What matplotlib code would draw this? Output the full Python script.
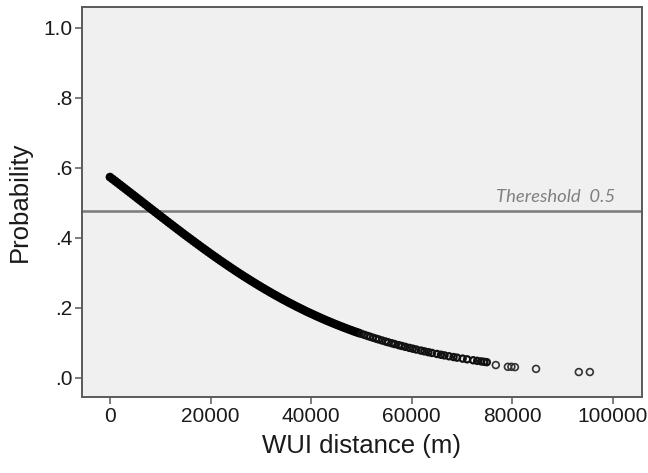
import matplotlib
matplotlib.use('Agg')
import matplotlib.pyplot as plt

plt.rcParams['font.family'] = ['Liberation Sans', 'DejaVu Sans']

# WUI distance (thousands of m) and predicted probability
dist_k = [0, 0.5, 1, 1.5, 2, 2.5, 3, 3.5, 4, 4.5, 5, 5.5, 6, 6.5, 7, 7.5, 8, 8.5, 9, 9.5,
          10, 10.5, 11, 11.5, 12, 12.5, 13, 13.5, 14, 14.5, 15, 15.5, 16, 16.5, 17, 17.5,
          18, 18.5, 19, 19.5, 20, 20.5, 21, 21.5, 22, 22.5, 23, 23.5, 24, 24.5, 25, 25.5,
          26, 26.5, 27, 27.5, 28, 28.5, 29, 29.5, 30, 30.5, 31, 31.5, 32, 32.5, 33, 33.5,
          34, 34.5, 35, 35.5, 36, 36.5, 37, 37.5, 38, 38.5, 39, 39.5, 40, 40.5, 41, 41.5,
          42, 42.5, 43, 43.5, 44, 44.5, 45, 45.5, 46, 46.5, 47, 47.5, 48, 48.5, 49, 49.5, 50,
          50.6, 51.2, 51.7, 52.3, 52.9, 53.4, 54.1, 54.8, 55.3, 56.0, 56.6, 57.4, 58.0, 58.7,
          59.5, 60.2, 60.9, 61.8, 62.5, 63.3, 64.0, 65.0, 65.8, 66.5, 67.4, 68.3, 69.0, 70.1,
          71.0, 72.2, 73.0, 73.8, 74.4, 74.9, 76.7, 79.1, 79.8, 80.5, 84.7, 93.2, 95.4]
prob = [0.5740, 0.5685, 0.5630, 0.5575, 0.5520, 0.5464, 0.5409, 0.5353, 0.5298, 0.5242,
        0.5186, 0.5130, 0.5075, 0.5019, 0.4963, 0.4907, 0.4851, 0.4795, 0.4740, 0.4684,
        0.4628, 0.4573, 0.4517, 0.4462, 0.4407, 0.4352, 0.4297, 0.4242, 0.4188, 0.4133,
        0.4079, 0.4026, 0.3972, 0.3919, 0.3865, 0.3813, 0.3760, 0.3708, 0.3656, 0.3604,
        0.3552, 0.3501, 0.3451, 0.3400, 0.3350, 0.3301, 0.3252, 0.3203, 0.3154, 0.3106,
        0.3058, 0.3011, 0.2964, 0.2918, 0.2872, 0.2827, 0.2782, 0.2737, 0.2693, 0.2649,
        0.2606, 0.2563, 0.2521, 0.2479, 0.2437, 0.2396, 0.2356, 0.2316, 0.2276, 0.2237,
        0.2199, 0.2160, 0.2123, 0.2086, 0.2049, 0.2013, 0.1977, 0.1942, 0.1907, 0.1873,
        0.1839, 0.1806, 0.1773, 0.1741, 0.1709, 0.1678, 0.1646, 0.1616, 0.1586, 0.1556,
        0.1527, 0.1498, 0.1470, 0.1442, 0.1415, 0.1388, 0.1362, 0.1335, 0.1310, 0.1285,
        0.1260, 0.1231, 0.1202, 0.1179, 0.1151, 0.1124, 0.1102, 0.1071, 0.1042, 0.1021,
        0.0993, 0.0969, 0.0938, 0.0916, 0.0890, 0.0861, 0.0837, 0.0813, 0.0784, 0.0762,
        0.0737, 0.0716, 0.0687, 0.0664, 0.0645, 0.0621, 0.0598, 0.0581, 0.0554, 0.0534,
        0.0507, 0.0490, 0.0474, 0.0462, 0.0452, 0.037, 0.032, 0.032, 0.031, 0.026, 0.017, 0.017]
distance = [d * 1000 for d in dist_k]

threshold_y = 0.477
threshold_label = 'Thereshold  0.5'
x_ticks = [0, 20000, 40000, 60000, 80000, 100000]
y_ticks = [0.0, 0.2, 0.4, 0.6, 0.8, 1.0]
y_labels = ['.0', '.2', '.4', '.6', '.8', '1.0']

fig = plt.figure(figsize=(6.48, 4.73), dpi=100)
ax = fig.add_axes([82 / 648, 1 - 397 / 473, 560 / 648, 390 / 473])
ax.set_facecolor('#f0f0f0')

# where the cases pile up the circles merge into a solid band,
# further out they thin into separate rings
groups = [(0, 50000, 16, 2.3, 'black'),
          (50000, 75500, 20, 1.6, '#111111'),
          (75500, 200000, 24, 1.2, '#333333')]
for lo, hi, size, lw, col in groups:
    idx = [i for i, d in enumerate(distance) if lo <= d < hi]
    ax.scatter([distance[i] for i in idx], [prob[i] for i in idx], s=size,
               facecolors='none', edgecolors=col, linewidths=lw, zorder=3)

ax.axhline(threshold_y, color='#7f7f7f', lw=1.9, zorder=2)
ax.text(100400, 0.503, threshold_label, ha='right', va='baseline',
        fontsize=13.3, style='italic', color='#808080', family=['Lato', 'DejaVu Sans'])

ax.set_xlim(-5567, 105765)
ax.set_ylim(-0.0543, 1.06)
ax.set_xticks(x_ticks)
ax.set_xticklabels([str(v) for v in x_ticks])
ax.set_yticks(y_ticks)
ax.set_yticklabels(y_labels)

for s in ax.spines.values():
    s.set_color('#5a5a5a')
    s.set_linewidth(1.4)
ax.tick_params(direction='out', length=5, width=1.1, color='#5a5a5a',
               labelsize=15, labelcolor='#1a1a1a', pad=2)

ax.set_xlabel('WUI distance (m)', fontsize=18.5, color='#1a1a1a', labelpad=6)
ax.set_ylabel('Probability', fontsize=18.5, color='#1a1a1a', labelpad=8)

fig.savefig('out.png', dpi=100)
